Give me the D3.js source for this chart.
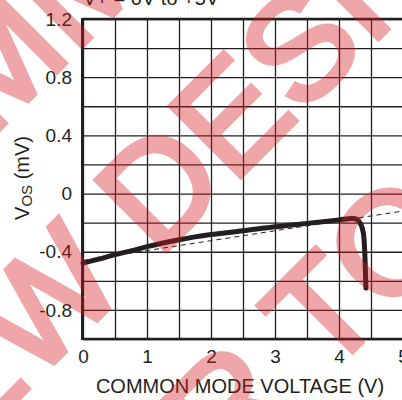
<!DOCTYPE html>
<html>
<head>
<meta charset="utf-8">
<script src="https://cdn.jsdelivr.net/npm/d3@7"></script>
<style>
  html, body { margin: 0; padding: 0; background: #fff; }
  svg { display: block; font-family: "Liberation Sans", Arial, sans-serif; }
</style>
</head>
<body>
<svg id="chart" width="402" height="400"></svg>
<script>
// common mode voltage (V) vs offset voltage (mV)
var vcm = [0, 0.25, 0.5, 0.75, 1.0, 1.25, 1.5, 1.75, 2.0, 2.5, 3.0, 3.5, 4.0, 4.2, 4.28, 4.34, 4.38, 4.4, 4.41, 4.42];
var vos = [-0.478, -0.45, -0.42, -0.394, -0.365, -0.34, -0.318, -0.298, -0.282, -0.256, -0.228, -0.205, -0.181, -0.172, -0.178, -0.21, -0.27, -0.38, -0.5, -0.65];

// dashed reference line
var refVcm = [0, 5];
var refVos = [-0.46, -0.12];

var xTicks = [0, 0.5, 1, 1.5, 2, 2.5, 3, 3.5, 4, 4.5, 5];
var xLabels = ["0", "", "1", "", "2", "", "3", "", "4", "", "5"];
var yTicks = [-1.0, -0.8, -0.6, -0.4, -0.2, 0, 0.2, 0.4, 0.6, 0.8, 1.0, 1.2];
var yLabels = ["", "-0.8", "", "-0.4", "", "0", "", "0.4", "", "0.8", "", "1.2"];

var watermark = ["NOT RECOMMENDED FOR", "NEW DESIGNS", "REFER TO"];

(function(){
  var svg = d3.select('#chart'),
    ink = '#231f20',
    left = 83, right = 403, top = 19, bottom = 339;

  var x = d3.scaleLinear().domain([0, 5]).range([left, right]),
    y = d3.scaleLinear().domain([-1, 1.2]).range([bottom, top]);

  // grid + labels through axes
  var gx = svg.append('g')
    .attr('transform', 'translate(0,' + bottom + ')')
    .call(d3.axisBottom(x).tickValues(xTicks).tickSize(-(bottom - top)).tickPadding(11)
      .tickFormat(function(d, i){ return xLabels[i]; }));
  var gy = svg.append('g')
    .attr('transform', 'translate(' + left + ',0)')
    .call(d3.axisLeft(y).tickValues(yTicks).tickSize(-(right - left)).tickPadding(11)
      .tickFormat(function(d, i){ return yLabels[i]; }));

  [gx, gy].forEach(function(g){
    g.select('.domain').remove();
    g.selectAll('line').attr('stroke', ink).attr('stroke-width', 1.3);
    g.selectAll('text').attr('fill', ink).attr('font-size', 19)
      .attr('font-family', '"Liberation Sans", Arial, sans-serif');
  });

  // frame
  svg.append('line').attr('x1', left).attr('x2', right).attr('y1', top).attr('y2', top)
    .attr('stroke', ink).attr('stroke-width', 2.5);
  svg.append('line').attr('x1', left).attr('x2', right).attr('y1', bottom).attr('y2', bottom)
    .attr('stroke', ink).attr('stroke-width', 2.5);
  svg.append('line').attr('x1', left - 0.5).attr('x2', left - 0.5).attr('y1', top - 1).attr('y2', bottom + 1)
    .attr('stroke', ink).attr('stroke-width', 3);

  // dashed line
  svg.append('path')
    .datum(d3.zip(refVcm, refVos))
    .attr('fill', 'none').attr('stroke', ink).attr('stroke-width', 1)
    .attr('stroke-dasharray', '5,4')
    .attr('d', d3.line().x(function(d){ return x(d[0]); }).y(function(d){ return y(d[1]); }));

  // measured curve
  svg.append('path')
    .datum(d3.zip(vcm, vos))
    .attr('fill', 'none').attr('stroke', ink).attr('stroke-width', 5)
    .attr('stroke-linecap', 'round').attr('stroke-linejoin', 'round')
    .attr('d', d3.line().curve(d3.curveCatmullRom.alpha(0.5))
      .x(function(d){ return x(d[0]); }).y(function(d){ return y(d[1]); }));

  // condition line at the top (cut off by the frame edge, as in the source)
  svg.append('text').attr('x', left).attr('y', 5).attr('font-size', 20).attr('fill', ink)
    .text('V+ = 0V to +5V');

  // axis titles
  svg.append('text').attr('x', 240).attr('y', 393).attr('text-anchor', 'middle')
    .attr('font-size', 20).attr('fill', ink).text('COMMON MODE VOLTAGE (V)');

  var yt = svg.append('text').attr('transform', 'translate(29,178) rotate(-90)')
    .attr('text-anchor', 'middle').attr('font-size', 20).attr('fill', ink);
  yt.append('tspan').text('V');
  yt.append('tspan').attr('font-size', 15).attr('dy', 3).text('OS');
  yt.append('tspan').attr('dy', -3).text(' (mV)');

  // watermark
  var wm = svg.append('g').attr('opacity', 0.38).attr('transform', 'rotate(-45)');
  var pos = [[-870, 91], [-450, 295], [-566, 498]];
  watermark.forEach(function(s, i){
    wm.append('text').attr('x', pos[i][0]).attr('y', pos[i][1])
      .attr('font-size', 145).attr('fill', 'rgb(215,25,32)')
      .attr('stroke', 'rgb(215,25,32)').attr('stroke-width', 5)
      .text(s);
  });
})();
</script>
</body>
</html>
